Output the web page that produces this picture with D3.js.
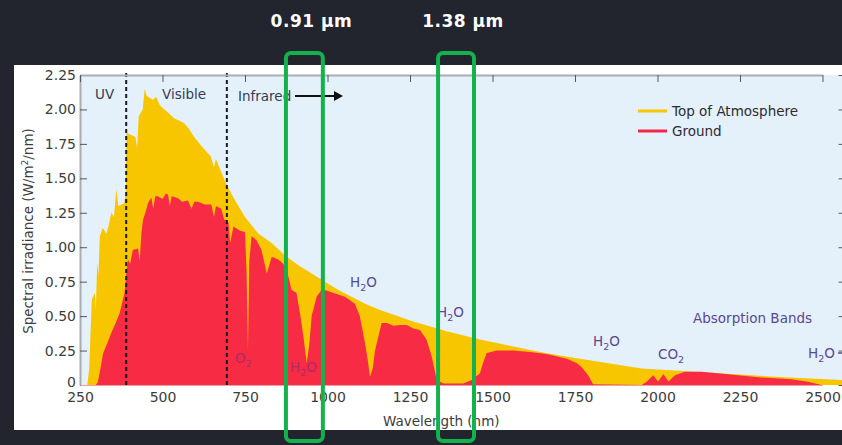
<!DOCTYPE html>
<html lang="en">

<head>
    <meta charset="utf-8">
    <title>Solar spectrum</title>
    <script src="https://d3js.org/d3.v7.min.js"></script>
    <style>
        body {
            margin: 0;
            background-color: #22242e;
            overflow: hidden;
        }

        svg text {
            font-family: 'DejaVu Sans', sans-serif;
        }
    </style>
</head>

<body>
    <div id="chart"></div>

    <script type="text/javascript">
        // Top of atmosphere spectrum (nm, W/m2/nm)
        var toaWavelength = [250, 272, 278, 283, 286, 295, 298, 302, 306, 310, 319, 330, 336, 345, 353, 360, 366, 384, 389, 391,
            418, 423, 428, 440, 446, 452, 470, 481, 492, 506, 520, 536, 550, 566, 580, 596, 620, 646, 656, 662,
            692, 720, 750, 790, 831, 871, 912, 952, 992, 1033, 1073, 1114, 1159, 1260, 1361, 1462, 1563, 1664,
            1765, 1952, 2153, 2356, 2558, 2600];
        var toaIrradiance = [0, 0, 0.12, 0.45, 0.62, 0.67, 0.55, 0.88, 0.80, 1.08, 1.14, 1.10, 1.15, 1.25, 1.22, 1.42, 1.30, 1.32, 1.40, 1.83,
            1.80, 1.72, 1.95, 2.00, 2.15, 2.10, 2.07, 2.09, 2.03, 2.00, 1.97, 1.935, 1.92, 1.90, 1.86, 1.80, 1.73, 1.66, 1.58, 1.64,
            1.465, 1.34, 1.22, 1.10, 1.03, 0.94, 0.87, 0.81, 0.75, 0.69, 0.64, 0.59, 0.545, 0.46, 0.39, 0.33, 0.28, 0.23,
            0.19, 0.12, 0.09, 0.06, 0.036, 0.03];

        // Ground level spectrum
        var groundWavelength = [250, 298, 304, 312, 320, 332, 345, 358, 370, 378, 385, 390, 395, 402, 410, 426, 431, 436, 441, 448,
            456, 466, 472, 478, 486, 500, 510, 517, 522, 528, 547, 560, 577, 588, 596, 608, 628, 648, 656, 662,
            678, 687, 693, 700, 705, 715, 735, 750, 755, 759, 763, 770, 785, 800, 816, 831, 851, 866, 880, 891,
            906, 918, 927, 937, 945, 952, 967, 982, 992, 1023, 1053, 1083, 1098, 1114, 1122, 1129, 1137, 1144, 1164, 1180,
            1200, 1220, 1240, 1260, 1280, 1300, 1316, 1331, 1351, 1411, 1437, 1462, 1470, 1482, 1512, 1563, 1614, 1664, 1725, 1755,
            1770, 1790, 1805, 1952, 1967, 1987, 2002, 2018, 2033, 2053, 2083, 2134, 2205, 2305, 2406, 2456, 2497, 2600];
        var groundIrradiance = [0, 0, 0.02, 0.12, 0.23, 0.30, 0.38, 0.45, 0.52, 0.60, 0.67, 0.80, 0.91, 0.88, 0.98, 0.99, 0.90, 1.10, 1.20, 1.25,
            1.32, 1.36, 1.28, 1.37, 1.37, 1.35, 1.39, 1.38, 1.30, 1.37, 1.355, 1.33, 1.34, 1.28, 1.33, 1.33, 1.31, 1.31, 1.22, 1.30,
            1.28, 1.20, 1.20, 1.18, 1.03, 1.15, 1.12, 1.11, 0.80, 0.25, 0.90, 1.08, 1.05, 0.98, 0.81, 0.93, 0.91, 0.88, 0.80, 0.69,
            0.67, 0.50, 0.35, 0.16, 0.30, 0.50, 0.64, 0.69, 0.69, 0.665, 0.64, 0.59, 0.50, 0.30, 0.18, 0.06, 0.12, 0.25, 0.45, 0.45,
            0.43, 0.435, 0.435, 0.41, 0.40, 0.33, 0.205, 0.036, 0.01, 0.01, 0.036, 0.085, 0.15, 0.23, 0.25, 0.25, 0.24, 0.225, 0.19, 0.16,
            0.13, 0.07, 0.005, 0, 0.024, 0.07, 0.025, 0.08, 0.025, 0.07, 0.097, 0.097, 0.08, 0.056, 0.041, 0.024, 0, 0];

        var xTicks = [250, 500, 750, 1000, 1250, 1500, 1750, 2000, 2250, 2500];
        var yTicks = [0, 0.25, 0.5, 0.75, 1, 1.25, 1.5, 1.75, 2, 2.25];

        // UV / visible / infrared borders (nm)
        var regionBorders = [390, 695];

        // highlighted bands
        var bandLabels = ["0.91 µm", "1.38 µm"];
        var bandFrom = [868, 1329];
        var bandTo = [992, 1450];

        var width = 842;
        var height = 445;

        var svg = d3.select("#chart")
            .append("svg")
            .attr("width", width)
            .attr("height", height);

        var x = d3.scaleLinear().domain([250, 2500]).range([80, 822.5]);
        var y = d3.scaleLinear().domain([0, 2.25]).range([385, 75]);
        var plotLeft = x(250);
        var plotRight = x(2570);

        // white card behind the figure
        svg.append("rect")
            .attr("x", 14)
            .attr("y", 65)
            .attr("width", width)
            .attr("height", 365)
            .attr("fill", "#ffffff");

        svg.append("rect")
            .attr("x", plotLeft)
            .attr("y", y(2.25))
            .attr("width", plotRight - plotLeft)
            .attr("height", y(0) - y(2.25))
            .attr("fill", "#e4f1fb");

        var toa = toaWavelength.map(function(d, i) { return [d, toaIrradiance[i]]; });
        var ground = groundWavelength.map(function(d, i) { return [d, groundIrradiance[i]]; });

        var area = d3.area()
            .x(function(d) { return x(d[0]); })
            .y0(y(0))
            .y1(function(d) { return y(d[1]); });

        svg.append("path")
            .datum(toa)
            .attr("d", area)
            .attr("fill", "#f7c600");

        svg.append("path")
            .datum(ground)
            .attr("d", area)
            .attr("fill", "#f72b43");

        // dashed region borders
        svg.selectAll(".border")
            .data(regionBorders)
            .enter()
            .append("line")
            .attr("class", "border")
            .attr("x1", function(d) { return x(d); })
            .attr("x2", function(d) { return x(d); })
            .attr("y1", y(2.25) - 2)
            .attr("y2", y(0))
            .attr("stroke", "#1a1a22")
            .attr("stroke-width", 2)
            .attr("stroke-dasharray", "4,3");

        // axes
        var leftAxis = svg.append("g")
            .attr("transform", "translate(" + plotLeft + ",0)")
            .call(d3.axisLeft(y).tickValues(yTicks).tickSizeInner(-7).tickSizeOuter(0).tickPadding(4)
                .tickFormat(function(d) { return d === 0 ? "0" : d3.format(".2f")(d); }));

        var bottomAxis = svg.append("g")
            .attr("transform", "translate(0," + y(0) + ")")
            .call(d3.axisBottom(x).tickValues(xTicks).tickSizeInner(0).tickSizeOuter(0).tickPadding(7)
                .tickFormat(d3.format("d")));

        var topAxis = svg.append("g")
            .attr("transform", "translate(0," + y(2.25) + ")")
            .call(d3.axisTop(x).tickValues(xTicks).tickSizeInner(-7).tickSizeOuter(0).tickFormat(""));

        var rightAxis = svg.append("g")
            .attr("transform", "translate(" + plotRight + ",0)")
            .call(d3.axisRight(y).tickValues(yTicks).tickSizeInner(-7).tickSizeOuter(0).tickFormat(""));

        [leftAxis, bottomAxis, topAxis, rightAxis].forEach(function(g) {
            g.select(".domain").attr("stroke", "#a9acb0").attr("stroke-width", 2);
            g.selectAll(".tick line").attr("stroke", "#55575c");
            g.selectAll("text")
                .attr("fill", "#3c3c3c")
                .style("font-size", "14px");
        });
        bottomAxis.select(".domain").attr("stroke", "#e9a3a8").attr("stroke-width", 1);
        // lift the "0" a little so it clears the "250"
        leftAxis.selectAll(".tick text").filter(function(d) { return d === 0; }).attr("dy", "0.1em");

        // axis titles
        svg.append("text")
            .attr("x", (x(250) + x(2500)) / 2 - 10)
            .attr("y", 426)
            .attr("text-anchor", "middle")
            .attr("fill", "#3c3c3c")
            .style("font-size", "13.5px")
            .text("Wavelength (nm)");

        var yTitle = svg.append("text")
            .attr("transform", "translate(33,231) rotate(-90)")
            .attr("text-anchor", "middle")
            .attr("fill", "#3c3c3c")
            .style("font-size", "13.5px");
        yTitle.append("tspan").text("Spectral irradiance (W/m");
        yTitle.append("tspan").attr("dy", -5).style("font-size", "9px").text("2");
        yTitle.append("tspan").attr("dy", 5).text("/nm)");

        // region names
        var regionText = [["UV", 95, 99], ["Visible", 162, 99], ["Infrared", 238, 101]];
        svg.selectAll(".region")
            .data(regionText)
            .enter()
            .append("text")
            .attr("class", "region")
            .attr("x", function(d) { return d[1]; })
            .attr("y", function(d) { return d[2]; })
            .attr("fill", "#343c55")
            .style("font-size", "13.5px")
            .text(function(d) { return d[0]; });

        svg.append("line")
            .attr("x1", 295).attr("x2", 334)
            .attr("y1", 96).attr("y2", 96)
            .attr("stroke", "#111")
            .attr("stroke-width", 2);
        svg.append("path")
            .attr("d", "M334,91 L343,96 L334,101 Z")
            .attr("fill", "#111");

        // absorption band labels
        function chem(px, py, base, sub, tail, color) {
            var t = svg.append("text")
                .attr("x", px)
                .attr("y", py)
                .attr("fill", color)
                .style("font-size", "13.5px");
            t.append("tspan").text(base);
            t.append("tspan").attr("dy", 4).style("font-size", "9.5px").text(sub);
            t.append("tspan").attr("dy", -4).text(tail);
            return t;
        }
        var onBlue = "#5a4790";
        var onRed = "#b02a68";
        chem(235, 363, "O", "2", "", onRed);
        chem(290, 372, "H", "2", "O", onRed);
        chem(350, 287, "H", "2", "O", onBlue);
        chem(437, 317, "H", "2", "O", onBlue);
        chem(593, 346, "H", "2", "O", onBlue);
        chem(658, 359, "CO", "2", "", onBlue);
        chem(808, 358, "H", "2", "O", onBlue);
        svg.append("line")
            .attr("x1", 838).attr("x2", 850)
            .attr("y1", 353).attr("y2", 353)
            .attr("stroke", onBlue)
            .attr("stroke-width", 1.5);

        svg.append("text")
            .attr("x", 693)
            .attr("y", 323)
            .attr("fill", onBlue)
            .style("font-size", "13.5px")
            .text("Absorption Bands");

        // legend
        var legend = [["Top of Atmosphere", "#f7c600"], ["Ground", "#f0284a"]];
        var lg = svg.selectAll(".legend")
            .data(legend)
            .enter()
            .append("g")
            .attr("class", "legend")
            .attr("transform", function(d, i) { return "translate(638," + (111 + i * 20) + ")"; });
        lg.append("line")
            .attr("x1", 0).attr("x2", 29)
            .attr("stroke", function(d) { return d[1]; })
            .attr("stroke-width", 3);
        lg.append("text")
            .attr("x", 34)
            .attr("dy", "0.35em")
            .attr("fill", "#2c2c30")
            .style("font-size", "13.5px")
            .text(function(d) { return d[0]; });

        // green highlight boxes and their titles
        svg.selectAll(".band")
            .data(bandLabels)
            .enter()
            .append("rect")
            .attr("class", "band")
            .attr("x", function(d, i) { return x(bandFrom[i]) + 2; })
            .attr("y", 53)
            .attr("width", function(d, i) { return x(bandTo[i]) - x(bandFrom[i]) - 4; })
            .attr("height", 388)
            .attr("rx", 5)
            .attr("fill", "none")
            .attr("stroke", "#14b24c")
            .attr("stroke-width", 4);

        svg.selectAll(".bandLabel")
            .data(bandLabels)
            .enter()
            .append("text")
            .attr("class", "bandLabel")
            .attr("x", function(d, i) { return (x(bandFrom[i]) + x(bandTo[i])) / 2 + 7; })
            .attr("y", 27)
            .attr("text-anchor", "middle")
            .attr("fill", "#ffffff")
            .style("font-size", "17px")
            .style("font-weight", "bold")
            .style("letter-spacing", "0.5px")
            .text(function(d) { return d; });
    </script>
</body>

</html>
